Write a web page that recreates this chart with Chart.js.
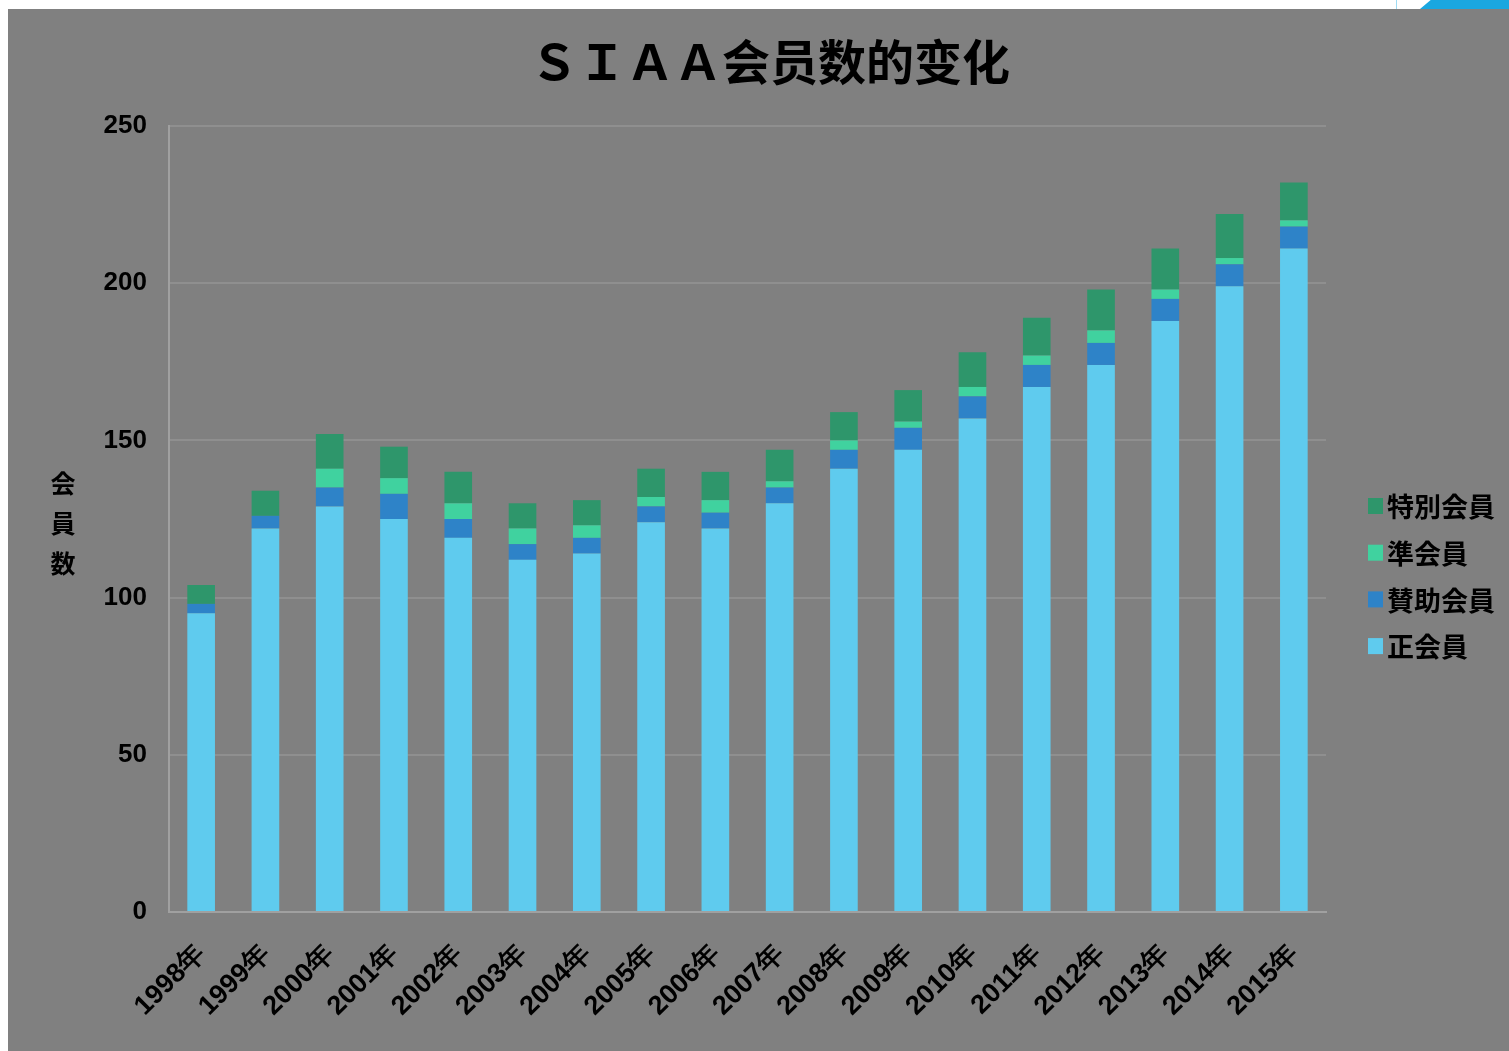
<!DOCTYPE html>
<html>
<head>
<meta charset="utf-8">
<script src="https://cdn.jsdelivr.net/npm/chart.js@4.4.0/dist/chart.umd.min.js"></script>
<style>
  html, body { margin: 0; padding: 0; background: #fff; overflow: hidden; }
  #panel { position: absolute; left: 8px; top: 9px; width: 1501px; height: 1042px; background: #808080; }
  #corner { position: absolute; left: 1420px; top: 0; width: 89px; height: 9px; background: #1aa7e0;
            clip-path: polygon(12% 0, 100% 0, 100% 100%, 0 100%); }
  #line { position: absolute; left: 1396px; top: 0; width: 1px; height: 9px; background: #9fdcf4; }
</style>
</head>
<body>
<div id="corner"></div>
<div id="line"></div>
<div id="panel"><canvas id="myChart" width="1501" height="1042"></canvas></div>
<script>
const years = ['1998年', '1999年', '2000年', '2001年', '2002年', '2003年', '2004年', '2005年', '2006年',
    '2007年', '2008年', '2009年', '2010年', '2011年', '2012年', '2013年', '2014年', '2015年'];
const seiKaiin   = [95, 122, 129, 125, 119, 112, 114, 124, 122, 130, 141, 147, 157, 167, 174, 188, 199, 211];
const sanjoKaiin = [3, 4, 6, 8, 6, 5, 5, 5, 5, 5, 6, 7, 7, 7, 7, 7, 7, 7];
const junKaiin   = [0, 0, 6, 5, 5, 5, 4, 3, 4, 2, 3, 2, 3, 3, 4, 3, 2, 2];
const tokubetsu  = [6, 8, 11, 10, 10, 8, 8, 9, 9, 10, 9, 10, 11, 12, 13, 13, 14, 12];
const yTicks = [0, 50, 100, 150, 200, 250];

const titleText = 'ＳＩＡＡ会员数的变化';
const yTitle = ['会', '員', '数'];

// title, legend and vertical axis title are drawn by hand
const extras = {
    id: 'extras',
    afterDraw(chart) {
        const ctx = chart.ctx;
        ctx.save();
        ctx.fillStyle = '#000';
        ctx.textBaseline = 'middle';

        ctx.textAlign = 'center';
        ctx.font = 'bold 48px "Noto Sans CJK SC"';
        ctx.fillText(titleText, 762, 53);

        ctx.font = 'bold 25px "Noto Sans CJK JP"';
        yTitle.forEach((c, i) => ctx.fillText(c, 55, 474 + i * 40));

        ctx.textAlign = 'left';
        ctx.font = 'bold 27px "Noto Sans CJK JP"';
        const ds = chart.data.datasets.slice().reverse();
        ds.forEach((d, i) => {
            const y = 497 + i * 46.7;
            ctx.fillStyle = d.backgroundColor;
            ctx.fillRect(1360, y - 8, 15, 16);
            ctx.fillStyle = '#000';
            ctx.fillText(d.label, 1379, y + 1);
        });
        ctx.restore();
    }
};

const ctx = document.getElementById('myChart');
const myChart = new Chart(ctx, {
    type: 'bar',
    data: {
        labels: years,
        datasets: [
            { label: '正会員', data: seiKaiin, backgroundColor: '#5fcbee' },
            { label: '賛助会員', data: sanjoKaiin, backgroundColor: '#2e83c8' },
            { label: '準会員', data: junKaiin, backgroundColor: '#40d29f' },
            { label: '特別会員', data: tokubetsu, backgroundColor: '#2e966b' },
        ]
    },
    options: {
        responsive: false,
        animation: false,
        layout: { padding: { top: 117, right: 183, left: 0, bottom: 0 } },
        datasets: { bar: { barPercentage: 0.43, categoryPercentage: 1 } },
        plugins: {
            legend: { display: false },
            tooltip: { enabled: false },
        },
        scales: {
            x: {
                stacked: true,
                afterFit: (s) => { s.height = 139; },
                grid: { display: false },
                border: { color: '#a0a0a0', width: 2 },
                ticks: {
                    color: '#000',
                    minRotation: 45,
                    maxRotation: 45,
                    padding: 18,
                    font: { family: 'Liberation Sans', size: 27, weight: 'bold' },
                },
            },
            y: {
                stacked: true,
                min: 0,
                max: 250,
                afterFit: (s) => { s.width = 161; },
                afterBuildTicks: (s) => { s.ticks = yTicks.map(v => ({ value: v })); },
                grid: { color: '#8f8f8f', lineWidth: 2, drawTicks: false },
                border: { color: '#a0a0a0', width: 2 },
                ticks: {
                    color: '#000',
                    padding: 22,
                    font: { family: 'Liberation Sans', size: 26, weight: 'bold' },
                },
            }
        }
    },
    plugins: [extras]
});
</script>
</body>
</html>
